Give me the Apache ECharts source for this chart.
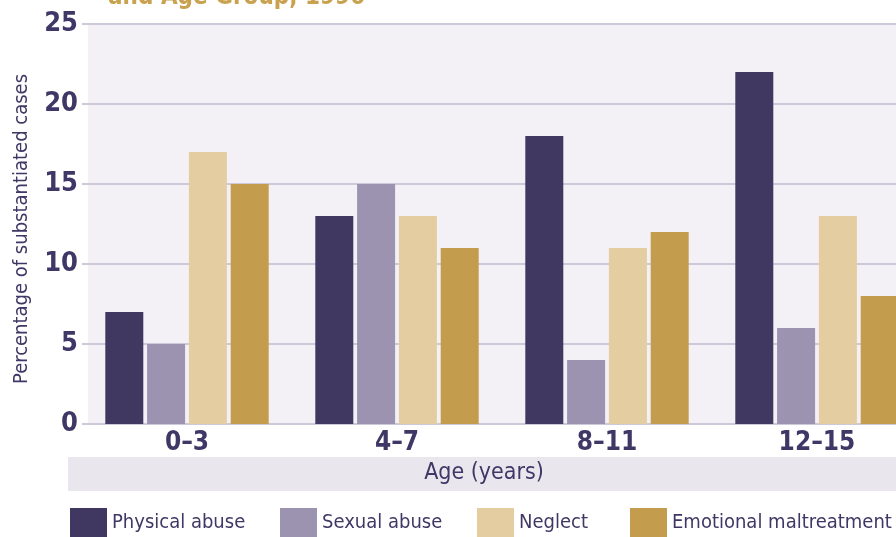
<!DOCTYPE html>
<html>
<head>
<meta charset="utf-8">
<script src="https://cdn.jsdelivr.net/npm/echarts@6/dist/echarts.min.js"></script>
<style>
  html, body { margin: 0; padding: 0; background: #fff; }
  #chart { width: 896px; height: 537px; }
</style>
</head>
<body>
<div id="chart"></div>
<script>
// data
var ageGroups = ['0–3', '4–7', '8–11', '12–15'];
var physicalAbuse = [7, 13, 18, 22];
var sexualAbuse = [5, 15, 4, 6];
var neglect = [17, 13, 11, 13];
var emotional = [15, 11, 12, 8];
var yTicks = [0, 5, 10, 15, 20, 25];
var seriesNames = ['Physical abuse', 'Sexual abuse', 'Neglect', 'Emotional maltreatment'];

var FONT = "'Liberation Sans Narrow', 'DejaVu Sans Condensed', sans-serif";
var INK = '#3f3866';

function bar(name, data, color) {
    return {
        name: name,
        type: 'bar',
        data: data,
        barWidth: 38,
        barGap: '10%',
        itemStyle: {color: color},
        animation: false
    };
}

// one legend per item so each sits where it does in the original
var legendLeft = [70, 280, 477, 630];
var legends = seriesNames.map(function (n, i) {
    return {
        left: legendLeft[i],
        top: 508,
        padding: 0,
        itemWidth: 37,
        itemHeight: 29,
        icon: 'rect',
        textStyle: {fontFamily: FONT, fontSize: 20, color: INK},
        data: [n]
    };
});

var myChart = echarts.init(document.getElementById('chart'));
myChart.setOption({
    backgroundColor: '#fff',
    title: {
        text: 'and Age Group, 1996',
        left: 103,
        top: -19,
        textStyle: {fontFamily: FONT, fontSize: 24, fontWeight: 'bold', color: '#c9a24f'}
    },
    graphic: [
        // plot background and the grey band behind the x axis title
        {type: 'rect', shape: {x: 88, y: 24, width: 830, height: 400}, style: {fill: '#f3f1f5'}, z: -10},
        {type: 'rect', shape: {x: 68, y: 457, width: 850, height: 34}, style: {fill: '#e9e7ed'}, z: -10}
    ],
    legend: legends,
    grid: {left: 82, width: 840, top: 24, height: 400, outerBoundsMode: 'none', containLabel: false},
    xAxis: {
        type: 'category',
        data: ageGroups,
        name: 'Age (years)',
        nameLocation: 'middle',
        nameGap: 38,
        nameTextStyle: {fontFamily: FONT, fontSize: 23, color: INK, padding: [0, 36, 0, 0]},
        axisLine: {show: false},
        axisTick: {show: false},
        axisLabel: {fontFamily: FONT, fontSize: 26, fontWeight: 'bold', color: INK, margin: 6}
    },
    yAxis: {
        type: 'value',
        min: 0,
        max: 25,
        interval: 5,
        name: 'Percentage of substantiated cases',
        nameLocation: 'middle',
        nameGap: 50,
        nameTextStyle: {fontFamily: FONT, fontSize: 20, color: INK, padding: [0, 10, 0, 0]},
        axisLine: {show: false},
        axisTick: {show: false},
        axisLabel: {
            fontFamily: FONT, fontSize: 27, fontWeight: 'bold', color: INK, margin: 4,
            formatter: function (v) { return yTicks.indexOf(v) >= 0 ? String(v) : ''; }
        },
        splitLine: {lineStyle: {color: '#cdc8da', width: 2}}
    },
    series: [
        bar(seriesNames[0], physicalAbuse, '#413862'),
        bar(seriesNames[1], sexualAbuse, '#9b93b0'),
        bar(seriesNames[2], neglect, '#e3cda1'),
        bar(seriesNames[3], emotional, '#c49c4d')
    ]
});
</script>
</body>
</html>
